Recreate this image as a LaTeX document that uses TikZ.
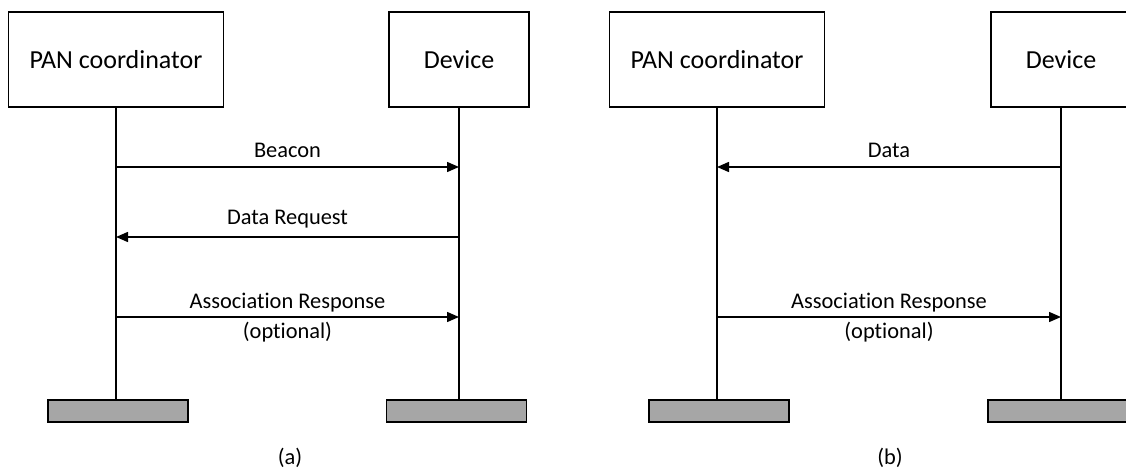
\documentclass[tikz,border=0pt]{standalone}
\usepackage{fontspec}
\setmainfont[Ligatures=NoCommon]{Carlito}
\usetikzlibrary{arrows.meta}
\begin{document}
\begin{tikzpicture}[x=1pt,y=-1pt,
  actor/.style={draw,line width=1.8pt,minimum width=#1,minimum height=95pt,inner sep=0pt,font=\fontsize{26}{30}\selectfont},
  bar/.style={draw,line width=1.8pt,fill=black!35,minimum width=140pt,minimum height=22pt,inner sep=0pt},
  life/.style={line width=2pt},
  msg/.style={line width=1.5pt,-{Triangle[length=12pt,width=10pt]}},
  lbl/.style={font=\fontsize{22.4}{26}\selectfont,inner sep=0pt,anchor=base},
  figcap/.style={font=\fontsize{22.4}{26}\selectfont,inner sep=0pt,anchor=base}]
\useasboundingbox (0,0) rectangle (1126,470);
\clip (0,0) rectangle (1126,470);
% (a)
\node[actor=215pt] (pa) at (116,59.5) {PAN coordinator};
\node[actor=140pt] (da) at (459,59.5) {Device};
\node[bar] (pab) at (118,411) {};
\node[bar] (dab) at (456.5,411) {};
\draw[life] (pa.south) -- (pa.south |- pab.north);
\draw[life] (da.south) -- (da.south |- dab.north);
\coordinate (y1) at (0,167);
\coordinate (y2) at (0,237);
\coordinate (y3) at (0,317);
\draw[msg] (pa.south |- y1) -- (da.south |- y1);
\draw[msg] (da.south |- y2) -- (pa.south |- y2);
\draw[msg] (pa.south |- y3) -- (da.south |- y3);
\node[lbl] (l1) at (287.5,158) {Beacon};
\node[lbl] (l2) at (287.5,225) {Data Request};
\node[lbl] (l3) at (287.5,308) {Association Response};
\node[lbl] (l4) at (287.5,338) {(optional)};
\node[figcap] (ca) at (290,464) {(a)};
% (b)
\node[actor=215pt] (pb) at (717,59.5) {PAN coordinator};
\node[actor=140pt] (db) at (1061,59.5) {Device};
\node[bar] (pbb) at (719,411) {};
\node[bar] (dbb) at (1058,411) {};
\draw[life] (pb.south) -- (pb.south |- pbb.north);
\draw[life] (db.south) -- (db.south |- dbb.north);
\draw[msg] (db.south |- y1) -- (pb.south |- y1);
\draw[msg] (pb.south |- y3) -- (db.south |- y3);
\node[lbl] (m1) at (889,158) {Data};
\node[lbl] (m3) at (889,308) {Association Response};
\node[lbl] (m4) at (889,338) {(optional)};
\node[figcap] (cb) at (890,464) {(b)};
\end{tikzpicture}
\end{document}
